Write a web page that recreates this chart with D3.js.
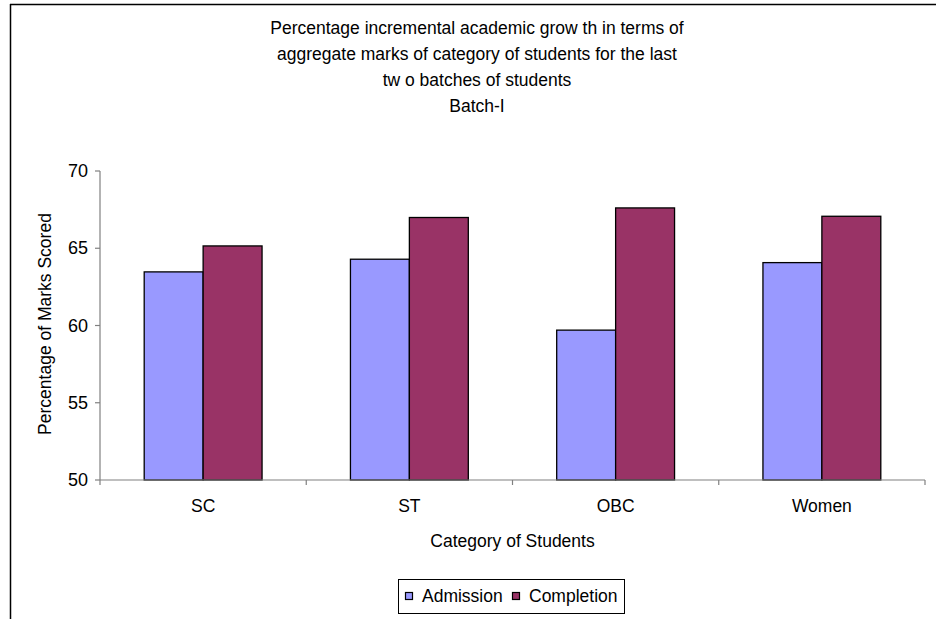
<!DOCTYPE html>
<html><head><meta charset="utf-8">
<script src="https://cdn.jsdelivr.net/npm/d3@7"></script>
<style>html,body{margin:0;padding:0;background:#fff;}svg{display:block;}text{font-family:"Liberation Sans",Arial,sans-serif;fill:#000;}</style>
</head><body>
<svg id="c" width="936" height="619"></svg>
<script>
const categories = ["SC", "ST", "OBC", "Women"];
const seriesNames = ["Admission", "Completion"];
const admission = [63.47, 64.29, 59.7, 64.07];
const completion = [65.15, 66.99, 67.61, 67.07];
const yTicks = [50, 55, 60, 65, 70];
const titleLines = ["Percentage incremental academic grow th in terms of",
  "aggregate marks of category of students for the last",
  "tw o batches of students", "Batch-I"];
const colors = ["#9999FF", "#993366"];

const svg = d3.select("#c");
const L = 100, R = 925, T = 171, B = 480;
const fs = 17.5;

// outer frame
svg.append("line").attr("x1", 10).attr("x2", 936).attr("y1", 4.5).attr("y2", 4.5).attr("stroke", "#000").attr("stroke-width", 1.5);
svg.append("line").attr("x1", 10.5).attr("x2", 10.5).attr("y1", 4).attr("y2", 619).attr("stroke", "#000").attr("stroke-width", 1.5);

// title
titleLines.forEach((t, i) => {
  svg.append("text").attr("x", 477).attr("y", 34 + i * 26).attr("text-anchor", "middle")
    .attr("font-size", fs).text(t);
});

const x = d3.scaleBand().domain(categories).range([L, R]).paddingInner(1.5/3.5).paddingOuter(0.75/3.5);
const xs = d3.scaleBand().domain(seriesNames).range([0, x.bandwidth()]);
const y = d3.scaleLinear().domain([50, 70]).range([B, T]);

const data = categories.map((c, i) => ({c, vals: [admission[i], completion[i]]}));
const g = svg.append("g");
data.forEach(d => {
  d.vals.forEach((v, j) => {
    g.append("rect").attr("x", x(d.c) + xs(seriesNames[j])).attr("y", y(v))
      .attr("width", xs.bandwidth()).attr("height", y(50) - y(v))
      .attr("fill", colors[j]).attr("stroke", "#000").attr("stroke-width", 1.3);
  });
});

// y axis
const axisColor = "#808080";
svg.append("line").attr("x1", L).attr("x2", L).attr("y1", T).attr("y2", B).attr("stroke", axisColor).attr("stroke-width", 1.2);
yTicks.forEach(t => {
  svg.append("line").attr("x1", L - 5).attr("x2", L).attr("y1", y(t)).attr("y2", y(t)).attr("stroke", axisColor).attr("stroke-width", 1.2);
  svg.append("text").attr("x", 88).attr("y", y(t) + 6).attr("text-anchor", "end").attr("font-size", 18).text(t);
});
// x axis
svg.append("line").attr("x1", L).attr("x2", R).attr("y1", B).attr("y2", B).attr("stroke", axisColor).attr("stroke-width", 1.2);
const step = x.step();
const x0 = x(categories[0]) - x.paddingOuter() * step;
d3.range(categories.length + 1).forEach(i => {
  const xx = x0 + i * step;
  svg.append("line").attr("x1", xx).attr("x2", xx).attr("y1", B).attr("y2", B + 5).attr("stroke", axisColor).attr("stroke-width", 1.2);
});
categories.forEach(c => {
  svg.append("text").attr("x", x(c) + x.bandwidth() / 2).attr("y", 512).attr("text-anchor", "middle").attr("font-size", fs).text(c);
});

// axis titles
svg.append("text").attr("x", (L + R) / 2).attr("y", 547).attr("text-anchor", "middle").attr("font-size", fs).text("Category of Students");
svg.append("text").attr("transform", "translate(51,324) rotate(-90)").attr("text-anchor", "middle").attr("font-size", fs).text("Percentage of Marks Scored");

// legend
const lg = svg.append("g");
lg.append("rect").attr("x", 398.5).attr("y", 579.5).attr("width", 226).attr("height", 34).attr("fill", "#fff").attr("stroke", "#000").attr("stroke-width", 1);
const legX = [405, 512];
seriesNames.forEach((s, j) => {
  lg.append("rect").attr("x", legX[j] + 0.5).attr("y", 592.5).attr("width", 7).attr("height", 7).attr("fill", colors[j]).attr("stroke", "#000").attr("stroke-width", 1.2);
  lg.append("text").attr("x", legX[j] + 17).attr("y", 602).attr("font-size", fs).text(s);
});
</script>
</body></html>
